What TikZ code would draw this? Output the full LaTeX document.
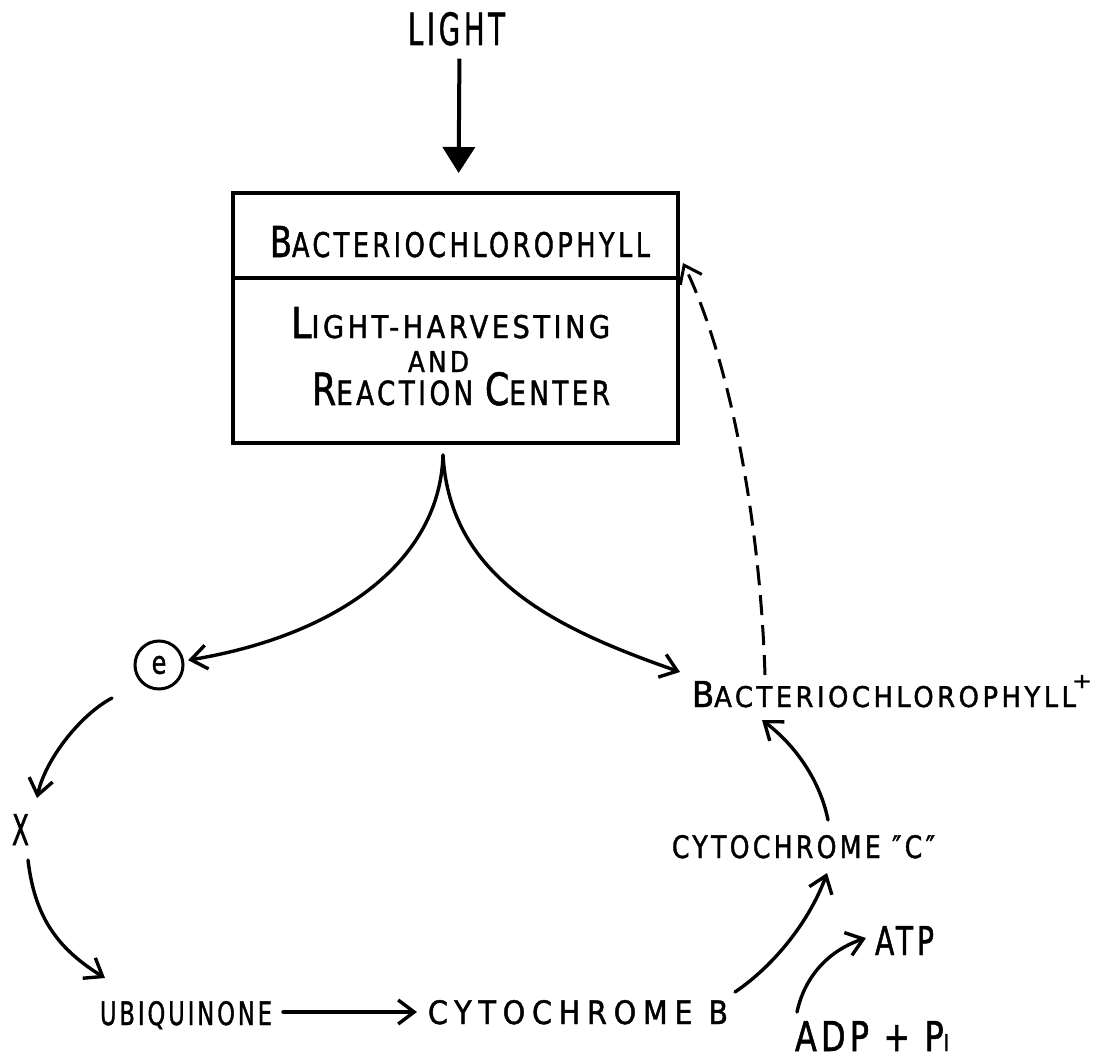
\documentclass[tikz,border=0pt]{standalone}
\usepackage{fontspec}
\setmainfont{DejaVu Sans}[FakeStretch=0.75,LetterSpace=10,FakeBold=1.2]
\usetikzlibrary{arrows.meta}
\newdimen\unitpx \unitpx=0.5pt
\newcommand\fit[3]{\resizebox{#1\unitpx}{#2\unitpx}{#3}}
\newcommand\Lg{\fontsize{20}{24}\selectfont}
\newcommand\Sm[1]{\fontsize{#1}{20}\selectfont}
\begin{document}
\begin{tikzpicture}[x=0.5pt,y=-0.5pt,
  txt/.style={inner sep=0pt,outer sep=0pt,anchor=base west},
  arr/.style={draw,line width=1.7pt,line cap=round,-{Straight Barb[length=8pt,width=12pt]}},
  dasharr/.style={draw,line width=1.5pt,dash pattern=on 10pt off 5pt,-{Straight Barb[length=8pt,width=12pt]}},
  lightarr/.style={draw,line width=2pt,-{Triangle[length=13pt,width=16pt]}}]
\useasboundingbox (0,0) rectangle (1097,1059);
\fill[white] (0,0) rectangle (1097,1059);

% texts
\node[txt] (light) at (408,45) {\fit{97}{33}{LIGHT}};
\node[draw,line width=1.7pt,inner sep=0pt,outer sep=0pt,minimum width=222.5pt,minimum height=125pt] (box) at (455.5,318) {};
\draw[line width=1.7pt] (box.west |- 0,278) -- (box.east |- 0,278);
\node[txt] (bchl) at (270,257) {\fit{380}{31}{\Lg B\Sm{16}ACTERIOCHLOROPHYLL}};
\node[txt] (lh) at (291,338) {\fit{319}{31}{\Lg L\Sm{14.7}IGHT-HARVESTING}};
\node[txt] (and) at (408,372) {\fit{61}{21}{AND}};
\node[txt] (rc) at (312,405) {\fit{298}{33}{\Lg R\Sm{15}EACTION \Lg C\Sm{15}ENTER}};

\node[circle,draw,line width=1.5pt,minimum size=24pt,inner sep=0pt] (e) at (159,665) {\fontsize{16}{18}\selectfont e};
\node[txt] (x) at (12,845) {\fit{17}{31}{X}};
\node[txt] (ubq) at (100,1025) {\fit{172}{24}{UBIQUINONE}};
\node[txt] (cytb) at (428,1024) {\fit{300}{24}{\addfontfeatures{LetterSpace=18}CYTOCHROME B}};
\node[txt] (cytc) at (672,858) {\fit{263}{23}{CYTOCHROME ″C″}};
\node[txt] (bchlp) at (692,707) {\fit{384}{26}{\Lg B\Sm{16}ACTERIOCHLOROPHYLL}\hspace{-4\unitpx}\raisebox{19\unitpx}{\fit{20}{13}{+}}};
\node[txt] (atp) at (875,955) {\fit{59}{29}{ATP}};
\node[txt] (adp) at (795,1051) {\fit{154}{30}{\Lg ADP + P\Sm{11.3}I}};

% connector end points
\coordinate (split) at (443,455);
\coordinate (tipR) at (680,672);
\coordinate (eout) at (112,698);
\coordinate (xin) at (37,798);
\coordinate (xout) at (28,860);
\coordinate (ubqin) at (105,978);
\coordinate (ubqout) at (283,1012);
\coordinate (cytbin) at (417,1012);
\coordinate (cytbout) at (735,992);
\coordinate (cytcin) at (827,873);
\coordinate (cytcout) at (828,820);
\coordinate (bchlpin) at (762,720);
\coordinate (bchlpout) at (765,675);
\coordinate (boxin) at (683,263);
\coordinate (adpout) at (797,1012);
\coordinate (atpin) at (866,938);

% connectors
\draw[lightarr,shorten <=6.5pt,shorten >=10pt] ([xshift=1.5pt]light.south) -- ([xshift=1.5pt]box.north);
\draw[arr,shorten >=2pt] (split) .. controls (440,560) and (340,635) .. (e);
\draw[arr] (split) .. controls (450,580) and (560,630) .. (tipR);
\draw[arr] (eout) .. controls (80,715) and (45,760) .. (xin);
\draw[arr] (xout) .. controls (35,920) and (60,950) .. (ubqin);
\draw[arr] (ubqout) -- (cytbin);
\draw[arr] (cytbout) .. controls (775,965) and (810,920) .. (cytcin);
\draw[arr] (cytcout) .. controls (820,780) and (795,745) .. (bchlpin);
\draw[dasharr] (bchlpout) .. controls (760,520) and (730,360) .. (boxin);
\draw[arr] (adpout) .. controls (805,975) and (830,950) .. (atpin);
\end{tikzpicture}
\end{document}
